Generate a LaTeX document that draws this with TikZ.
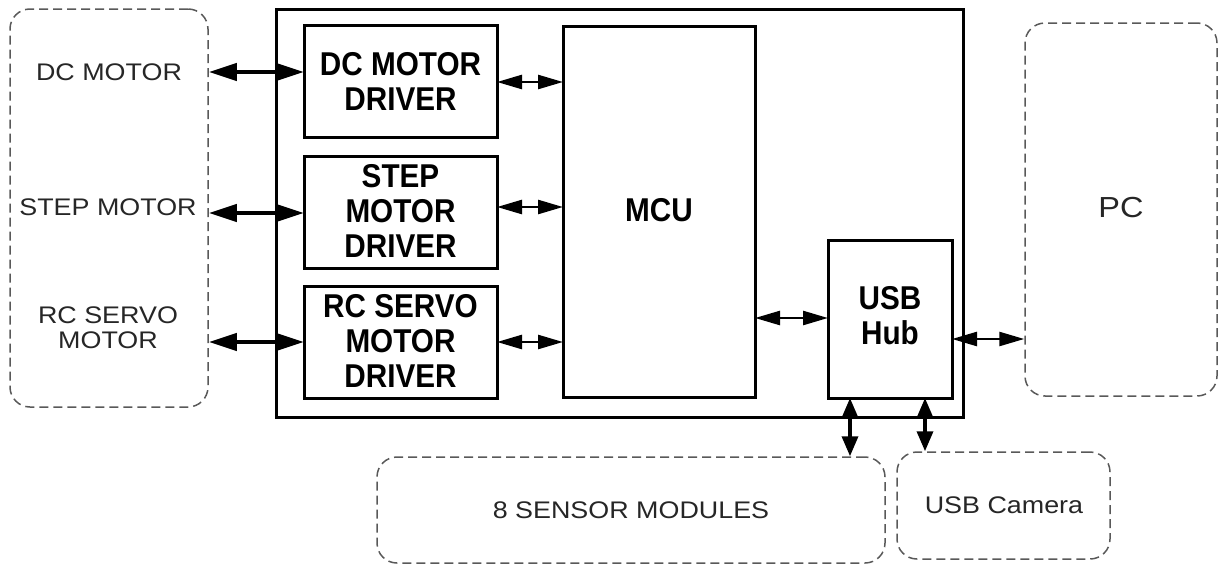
\documentclass[tikz,border=0pt]{standalone}
\usepackage{fontspec}
\setmainfont{Liberation Sans}
\newfontfamily\lblfont[FakeStretch=1.12]{Liberation Sans}
\newfontfamily\bfont[FakeStretch=0.9]{Liberation Sans}
\usetikzlibrary{arrows.meta,calc}
\tikzset{
  dashbox/.style={draw=black!65, line width=1.5pt, dash pattern=on 9pt off 5pt, rounded corners=20pt, minimum width=#1},
  solidbox/.style={draw=black, line width=3pt, outer sep=0pt},
  lbl/.style={font=\lblfont\fontsize{24}{25}\selectfont, text=black!85, align=center, inner sep=0pt},
  blbl/.style={font=\bfont\bfseries\fontsize{33}{35}\selectfont, align=center, inner sep=0pt},
  bigarrow/.style={line width=4pt, {Triangle[length=28pt,width=17pt]}-{Triangle[length=28pt,width=17pt]}},
  smallarrow/.style={line width=2.5pt, {Triangle[length=25pt,width=14pt]}-{Triangle[length=25pt,width=14pt]}},
  vertarrow/.style={line width=3.5pt, {Triangle[length=20pt,width=16pt]}-{Triangle[length=20pt,width=16pt]}},
}
\begin{document}
\begin{tikzpicture}[x=1pt,y=-1pt]
\useasboundingbox (0,0) rectangle (1219,565);
% dashed external boxes
\node[dashbox=198pt, minimum height=398pt] (left) at (109,208) {};
\node[dashbox=192pt, minimum height=373pt] (pc) at (1121,209.5) {};
\node[dashbox=508pt, minimum height=106pt] (sens) at (631,510) {};
\node[dashbox=213pt, minimum height=107pt] (cam) at (1003.5,505.5) {};
% outer board
\node[solidbox, minimum width=687pt, minimum height=408pt] (board) at (619.5,213) {};
% inner blocks
\node[solidbox, minimum width=193pt, minimum height=112pt] (dc) at (400.5,81) {};
\node[solidbox, minimum width=193pt, minimum height=112pt] (step) at (400.5,212) {};
\node[solidbox, minimum width=193pt, minimum height=112pt] (rc) at (400.5,342) {};
\node[solidbox, minimum width=192pt, minimum height=371pt] (mcu) at (659,211.5) {};
\node[solidbox, minimum width=124pt, minimum height=158pt] (hub) at (890,319) {};
% bold texts
\node[blbl] (tdc) at (400.5,81) {DC MOTOR\\DRIVER};
\node[blbl] (tstep) at (400.5,211) {STEP\\MOTOR\\DRIVER};
\node[blbl] (trc) at (400.5,341) {RC SERVO\\MOTOR\\DRIVER};
\node[blbl] (tmcu) at (659,210) {MCU};
\node[blbl] (thub) at (890,316) {USB\\Hub};
% regular texts
\node[lbl] (ldc) at (109,72) {DC MOTOR};
\node[lbl] (lstep) at (108,207) {STEP MOTOR};
\node[lbl] (lrc) at (108,328) {RC SERVO\\MOTOR};
\node[lbl, font=\lblfont\fontsize{29}{30}\selectfont] (lpc) at (1121,208) {PC};
\node[lbl] (lsens) at (631,510) {8 SENSOR MODULES};
\node[lbl] (lcam) at (1004,505) {USB Camera};
% arrows: motors to drivers
\coordinate (ydc) at (0,72);
\coordinate (ystep) at (0,213);
\coordinate (yrc) at (0,342);
\draw[bigarrow] (left.east |- ydc) -- (dc.west |- ydc);
\draw[bigarrow] (left.east |- ystep) -- (step.west |- ystep);
\draw[bigarrow] (left.east |- yrc) -- (rc.west |- yrc);
% drivers to MCU
\coordinate (y1) at (0,82);
\coordinate (y2) at (0,207);
\coordinate (y3) at (0,342);
\draw[smallarrow] (dc.east |- y1) -- (mcu.west |- y1);
\draw[smallarrow] (step.east |- y2) -- (mcu.west |- y2);
\draw[smallarrow] (rc.east |- y3) -- (mcu.west |- y3);
% MCU to hub, hub to PC
\coordinate (y4) at (0,318);
\coordinate (y5) at (0,339);
\draw[smallarrow] (mcu.east |- y4) -- (hub.west |- y4);
\draw[smallarrow] (hub.east |- y5) -- (pc.west |- y5);
% hub to sensors and camera
\coordinate (x1) at (850,0);
\coordinate (x2) at (925,0);
\draw[vertarrow] (hub.south -| x1) -- (sens.north -| x1);
\draw[vertarrow] (hub.south -| x2) -- (cam.north -| x2);
\end{tikzpicture}
\end{document}
